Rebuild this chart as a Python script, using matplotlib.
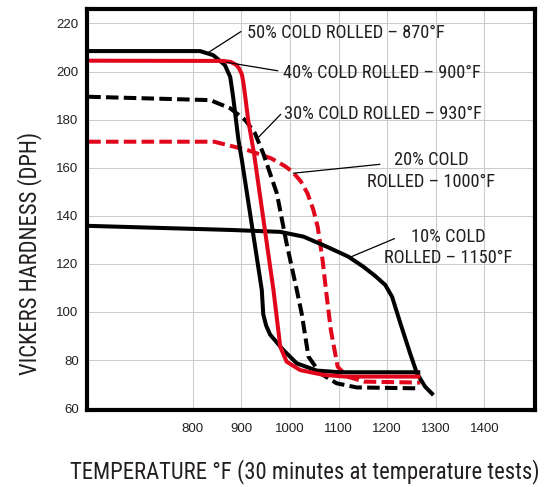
import matplotlib
matplotlib.use("Agg")
import matplotlib.pyplot as plt

COND = ['Roboto Condensed', 'DejaVu Sans']
plt.rcParams['font.family'] = ['Liberation Sans', 'DejaVu Sans']
plt.rcParams['lines.scale_dashes'] = False

INK = '#231f20'
RED = '#e2061c'

# ---- data (temperature °F, Vickers hardness DPH) ----
x50 = [585, 815, 842, 866, 877, 883, 894, 901, 942, 945, 951, 959, 986, 1014, 1055, 1103, 1268]
y50 = [208.5, 208.5, 206.8, 202.7, 197.8, 189.5, 171.5, 163.2, 109.1, 99.0, 94.3, 90.6, 84.2, 78.6, 75.6, 74.9, 74.9]

x40 = [585, 862, 878, 890, 896, 901, 904, 908, 914, 926, 966, 980, 993, 1021, 1069, 1113, 1268]
y40 = [204.5, 204.4, 204.0, 202.7, 201.0, 198.8, 195.6, 189.5, 179.8, 165.9, 109.1, 85.5, 79.3, 75.8, 73.8, 73.1, 73.1]

x30 = [585, 836, 877, 908, 928, 945, 973, 993, 1014, 1024, 1038, 1062, 1096, 1137, 1268]
y30 = [189.5, 188.1, 184.7, 179.8, 174.3, 165.9, 149.3, 128.5, 109.1, 99.4, 81.4, 74.5, 70.3, 68.6, 68.2]

x20 = [585, 844, 913, 961, 990, 1005, 1022, 1036, 1048, 1057, 1067, 1074, 1084, 1098, 1118, 1153, 1268]
y20 = [170.8, 170.8, 167.3, 163.9, 160.6, 158.3, 154.4, 149.3, 142.5, 135.4, 121.6, 109.1, 92.5, 77.2, 73.1, 71.0, 70.6]

x10 = [585, 877, 980, 1028, 1076, 1120, 1151, 1175, 1196, 1210, 1227, 1247, 1261, 1278, 1295]
y10 = [135.8, 134.1, 133.3, 131.3, 127.1, 123.0, 118.8, 115.0, 111.2, 106.3, 95.3, 82.8, 74.5, 68.9, 65.4]

xticks = [800, 900, 1000, 1100, 1200, 1300, 1400]
yticks = [60, 80, 100, 120, 140, 160, 180, 200, 220]

labels = ["50% COLD ROLLED \u2013 870\u00b0F",
          "40% COLD ROLLED \u2013 900\u00b0F",
          "30% COLD ROLLED \u2013 930\u00b0F",
          "20% COLD\nROLLED \u2013 1000\u00b0F",
          "10% COLD\nROLLED \u2013 1150\u00b0F"]

fig = plt.figure(figsize=(5.48, 4.87), dpi=100)
ax = fig.add_axes([0.1588, 0.1581, 0.8175, 0.8244])
ax.set_xlim(582.5, 1504)
ax.set_ylim(59.2, 226.2)
ax.set_xticks(xticks)
ax.set_yticks(yticks)
ax.grid(True, color='#cccccc', lw=0.8)
ax.set_axisbelow(True)
for s in ax.spines.values():
    s.set_linewidth(3.0)
    s.set_color('black')
ax.tick_params(length=0, labelsize=9.5, colors=INK)
ax.tick_params(axis='x', pad=9)
ax.tick_params(axis='y', pad=6)

lw = 2.9
dash = (0, (9.0, 3.8))
kw = dict(solid_joinstyle='round', solid_capstyle='butt', dash_capstyle='butt', dash_joinstyle='round')
ax.plot(x20, y20, color=RED, lw=lw, linestyle=dash, **kw)
ax.plot(x30, y30, color='black', lw=lw, linestyle=dash, **kw)
ax.plot(x10, y10, color='black', lw=lw, **kw)
ax.plot(x50, y50, color='black', lw=lw, **kw)
ax.plot(x40, y40, color=RED, lw=lw, **kw)

tk = dict(fontsize=13.2, family=COND, color=INK)
ak = dict(arrowstyle='-', color='black', lw=0.9, shrinkA=0, shrinkB=0)
# leader lines
ax.annotate('', xy=(829, 207.5), xytext=(899, 216.6), arrowprops=ak)
ax.annotate('', xy=(870, 203.8), xytext=(975, 200.3), arrowprops=ak)
ax.annotate('', xy=(931, 171.8), xytext=(981, 182.2), arrowprops=ak)
ax.annotate('', xy=(1007, 157.7), xytext=(1185, 161.4), arrowprops=ak)
ax.annotate('', xy=(1123, 122.7), xytext=(1215, 130.5), arrowprops=ak)
# texts
ax.text(912, 216.2, labels[0], ha='left', va='center', **tk)
ax.text(986, 199.4, labels[1], ha='left', va='center', **tk)
ax.text(988, 182.3, labels[2], ha='left', va='center', **tk)
ax.text(1291, 158.7, labels[3], ha='center', va='center', linespacing=1.25, **tk)
ax.text(1326, 126.8, labels[4], ha='center', va='center', linespacing=1.25, **tk)

fig.text(70/548, 1 - 471.7/487, "TEMPERATURE \u00b0F (30 minutes at temperature tests)",
         ha='left', va='center', fontsize=16.4, family=COND, color=INK)
fig.text(30/548, 1 - 253/487, "VICKERS HARDNESS (DPH)", rotation=90,
         ha='center', va='center', fontsize=16.3, family=COND, color=INK)

fig.savefig("out.png", dpi=100)
